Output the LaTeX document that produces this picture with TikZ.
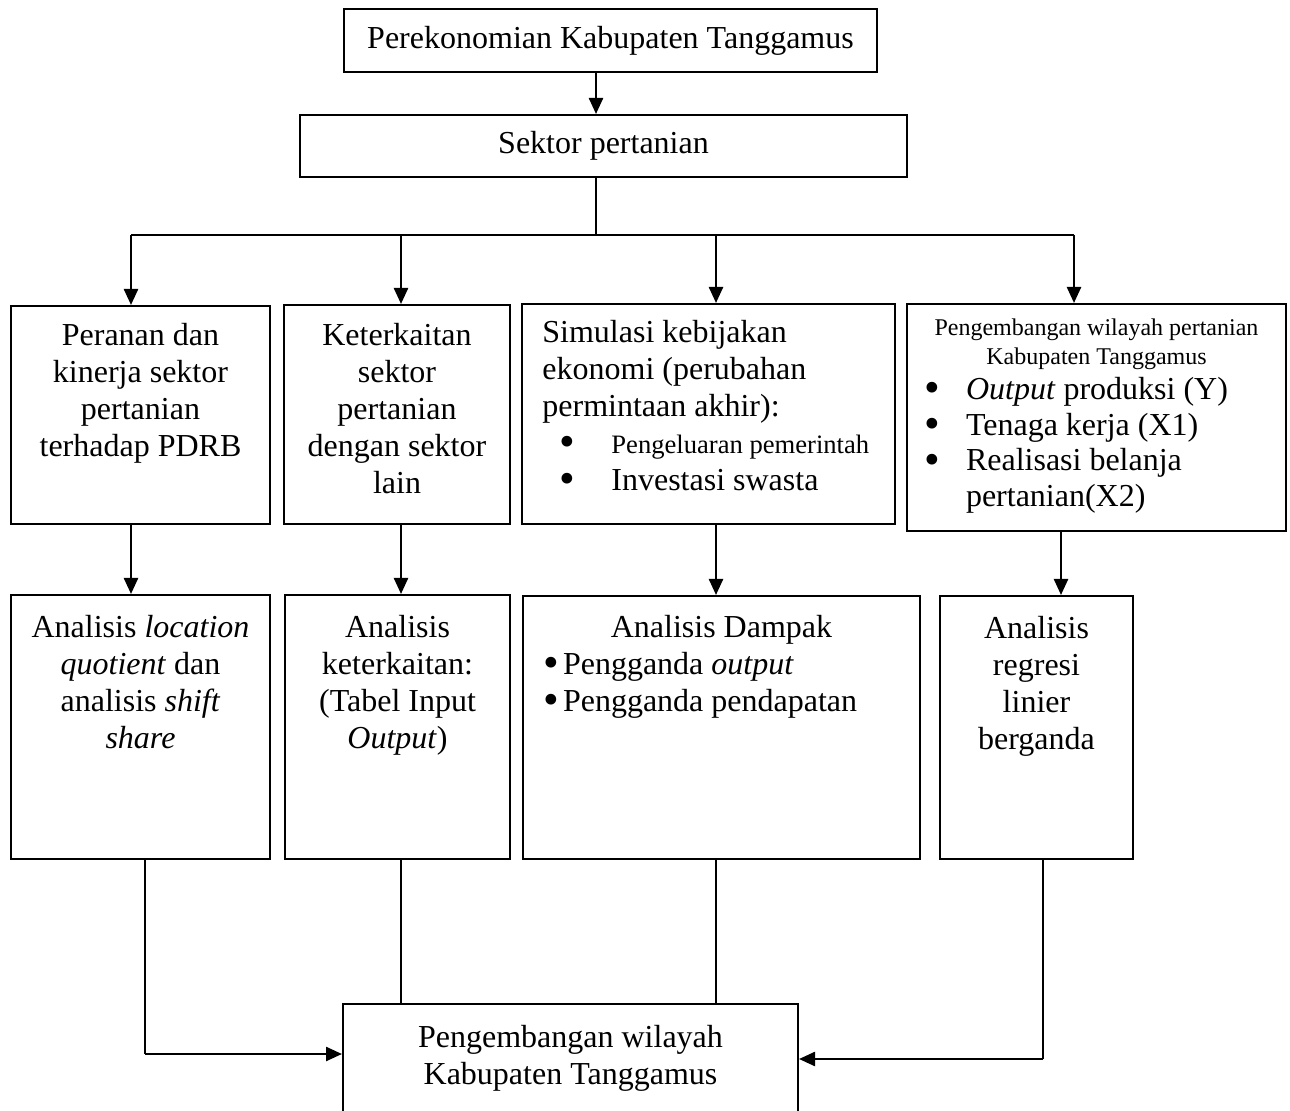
\documentclass[tikz,border=0pt]{standalone}
\usepackage{fontspec}
\setmainfont{Liberation Serif}
\usetikzlibrary{positioning,arrows.meta}

\newcommand{\blt}{\raisebox{-0.1em}{\scalebox{1.4}{\textbullet}}}

\begin{document}
\begin{tikzpicture}[
  x=0.5pt, y=-0.5pt,
  box/.style={draw, line width=1pt, inner sep=0pt, anchor=north west,
    font=\fontsize{16}{18.5}\selectfont},
  txt/.style={inner sep=0pt, align=center, font=\fontsize{16}{18.5}\selectfont,
    execute at begin node=\setlength{\parindent}{0pt}},
  arr/.style={-{Triangle[width=7pt,length=8pt]}, line width=1.2pt},
  ln/.style={line width=0.6pt}
]
  \useasboundingbox (0,0) rectangle (1290,1111);
  \clip (0,0) rectangle (1290,1111);

  % kotak-kotak
  \node[box, minimum width=266.5pt, minimum height=31.5pt] (eko) at (343,8) {Perekonomian Kabupaten Tanggamus};
  \node[box, minimum width=303.5pt, minimum height=31pt] (sektor) at (299,114) {Sektor pertanian};

  \node[box, minimum width=129.5pt, minimum height=109pt] (peran) at (10,305) {};
  \node[box, minimum width=113pt, minimum height=109.5pt] (kait) at (283,304) {};
  \node[box, minimum width=186.5pt, minimum height=110pt] (simul) at (521,303) {};
  \node[box, minimum width=189.5pt, minimum height=113.5pt] (wil) at (906,303) {};

  \node[box, minimum width=129.5pt, minimum height=132pt] (lq) at (10,594) {};
  \node[box, minimum width=112.5pt, minimum height=132pt] (io) at (284,594) {};
  \node[box, minimum width=198.5pt, minimum height=131.5pt] (dampak) at (522,595) {};
  \node[box, minimum width=96.5pt, minimum height=131.5pt] (regresi) at (939,595) {};

  \node[box, minimum width=227.5pt, minimum height=70pt] (pw) at (342,1003) {};

  % isi kotak
  \node[txt, below=9pt of peran.north] (tperan) {Peranan dan\\kinerja sektor\\pertanian\\terhadap PDRB};
  \node[txt, below=9.5pt of kait.north] (tkait) {Keterkaitan\\sektor\\pertanian\\dengan sektor\\lain};
  \node[txt, align=flush left, text width=175pt, below right=8.5pt and 10.5pt of simul.north west] (tsimul)
    {Simulasi kebijakan\\ekonomi (perubahan\\permintaan akhir):\\
     \makebox[34.5pt][l]{\hspace*{8.6pt}\blt}{\fontsize{13.3}{15}\selectfont Pengeluaran pemerintah}\\
     \makebox[34.5pt][l]{\hspace*{8.6pt}\blt}Investasi swasta};
  \node[txt, align=flush left, text width=180pt, font=\fontsize{16}{17.8}\selectfont,
    below=7.5pt of wil.north] (twil)
    {{\centering\fontsize{12}{14.5}\selectfont Pengembangan wilayah pertanian\\Kabupaten Tanggamus\par}
     \makebox[24.75pt][l]{\hspace*{3.85pt}\blt}\textit{Output} produksi (Y)\\
     \makebox[24.75pt][l]{\hspace*{3.85pt}\blt}Tenaga kerja (X1)\\
     \makebox[24.75pt][l]{\hspace*{3.85pt}\blt}Realisasi belanja\\
     \hspace*{24.75pt}pertanian(X2)};

  \node[txt, below=10.5pt of lq.north] (tlq) {Analisis \textit{location}\\\textit{quotient} dan\\analisis \textit{shift}\\\textit{share}};
  \node[txt, below=10.5pt of io.north] (tio) {Analisis\\keterkaitan:\\(Tabel Input\\\textit{Output})};
  \node[txt, align=flush left, text width=190pt, below=10pt of dampak.north] (tdampak)
    {{\centering Analisis Dampak\par}
     \makebox[15.75pt][l]{\hspace*{5.85pt}\blt}Pengganda \textit{output}\\
     \makebox[15.75pt][l]{\hspace*{5.85pt}\blt}Pengganda pendapatan};
  \node[txt, below=10.5pt of regresi.north] (tregresi) {Analisis\\regresi\\linier\\berganda};
  \node[txt, below=11pt of pw.north] (tpw) {Pengembangan wilayah\\Kabupaten Tanggamus};

  % titik bantu
  \coordinate (hub) at (596,235);
  \coordinate (bA) at (131,235);
  \coordinate (bB) at (401,235);
  \coordinate (bC) at (716,235);
  \coordinate (bD) at (1074,235);
  \coordinate (aD) at (1061,0);
  \coordinate (cA) at (145,1054);
  \coordinate (cD) at (1043,1059);

  % panah
  \draw[arr] (eko.south -| hub) -- (sektor.north -| hub);
  \draw[ln] (sektor.south -| hub) -- (hub);
  \draw[line width=1.2pt] (bA) -- (bD);
  \draw[arr] (bA) -- (bA |- peran.north);
  \draw[arr] (bB) -- (bB |- kait.north);
  \draw[arr] (bC) -- (bC |- simul.north);
  \draw[arr] (bD) -- (bD |- wil.north);

  \draw[arr] (peran.south -| bA) -- (lq.north -| bA);
  \draw[arr] (kait.south -| bB) -- (io.north -| bB);
  \draw[arr] (simul.south -| bC) -- (dampak.north -| bC);
  \draw[arr] (wil.south -| aD) -- (regresi.north -| aD);

  \draw[ln] (lq.south -| cA) -- (cA);
  \draw[arr] (cA) -- (pw.west |- cA);
  \draw[ln] (io.south -| bB) -- (pw.north -| bB);
  \draw[ln] (dampak.south -| bC) -- (pw.north -| bC);
  \draw[ln] (regresi.south -| cD) -- (cD);
  \draw[arr] (cD) -- (pw.east |- cD);
\end{tikzpicture}
\end{document}
